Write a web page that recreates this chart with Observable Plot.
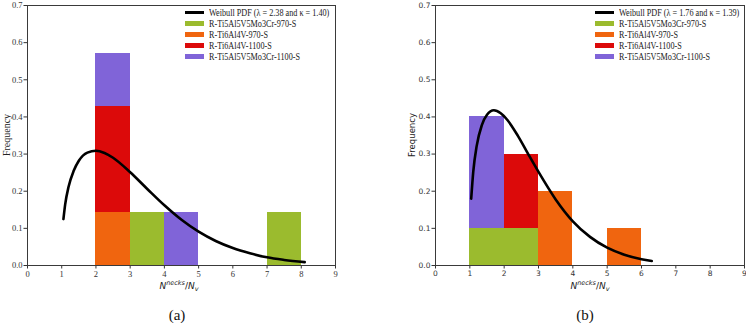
<!DOCTYPE html>
<html>
<head>
<meta charset="utf-8">
<script src="https://cdn.jsdelivr.net/npm/d3@7"></script>
<script src="https://cdn.jsdelivr.net/npm/@observablehq/plot@0.6"></script>
<style>
  html, body { margin: 0; padding: 0; background: #fff; }
  #fig { position: relative; width: 746px; height: 323px; overflow: hidden; }
  .panel { position: absolute; top: 0; width: 373px; height: 323px; }
  .panel svg { position: absolute; left: 0; top: 0; }
  .ylab { position: absolute; transform: translate(-50%, -50%) rotate(-90deg); white-space: nowrap; color: #222; }
  .xlab { position: absolute; transform: translate(-50%, -50%); white-space: nowrap; font-family: "DejaVu Sans", sans-serif; font-size: 9px; color: #222; }
  .xlab sup, .xlab sub { font-size: 6.5px; }
  .caption { position: absolute; transform: translate(-50%, -50%); font-family: "Liberation Serif", serif; font-size: 15px; color: #111; }
  .legend { position: absolute; font-family: "Liberation Serif", serif; font-size: 9.3px; color: #1a1a1a; }
  .legend .row { position: absolute; left: 0; height: 10px; white-space: nowrap; }
  .legend .key { position: absolute; left: 0; width: 19px; }
  .legend .txt { position: absolute; left: 24px; top: -5px; line-height: 10px; transform: scaleX(0.88); transform-origin: left center; }
</style>
</head>
<body>
<div id="fig"></div>
<script>
// Histogram bins: left edges, each bin is one unit wide
const binEdges = [0, 1, 2, 3, 4, 5, 6, 7, 8];
const xTicks = [0, 1, 2, 3, 4, 5, 6, 7, 8, 9];
const yTicks = [0, 0.1, 0.2, 0.3, 0.4, 0.5, 0.6, 0.7];

const seriesNames = ["R-Ti5Al5V5Mo3Cr-970-S", "R-Ti6Al4V-970-S", "R-Ti6Al4V-1100-S", "R-Ti5Al5V5Mo3Cr-1100-S"];
const seriesColors = ["#9bbb2e", "#f0650f", "#dc0a0a", "#8064d8"];

// Panel (a): sample counts per bin, for each alloy / temperature
const countsA_Ti5553_970 = [0, 0, 0, 1, 0, 0, 0, 1, 0];
const countsA_Ti64_970 = [0, 0, 1, 0, 0, 0, 0, 0, 0];
const countsA_Ti64_1100 = [0, 0, 2, 0, 0, 0, 0, 0, 0];
const countsA_Ti5553_1100 = [0, 0, 1, 0, 1, 0, 0, 0, 0];
const sampleSizeA = 7;

// Panel (b)
const countsB_Ti5553_970 = [0, 1, 1, 0, 0, 0, 0, 0, 0];
const countsB_Ti64_970 = [0, 0, 0, 2, 0, 1, 0, 0, 0];
const countsB_Ti64_1100 = [0, 0, 2, 0, 0, 0, 0, 0, 0];
const countsB_Ti5553_1100 = [0, 3, 0, 0, 0, 0, 0, 0, 0];
const sampleSizeB = 10;

// Fitted Weibull PDF curves (location 1), sampled along x
const weibullA_x = [1.05, 1.1, 1.2, 1.35, 1.5, 1.75, 2, 2.25, 2.5, 3, 3.5, 4, 4.5, 5, 5.5, 6, 6.5, 7, 7.5, 8.1];
const weibullA_y = [0.125, 0.164, 0.212, 0.255, 0.282, 0.304, 0.309, 0.303, 0.290, 0.251, 0.206, 0.162, 0.123, 0.091, 0.066, 0.047, 0.033, 0.022, 0.015, 0.009];
const weibullB_x = [1.04, 1.1, 1.2, 1.35, 1.5, 1.7, 1.9, 2.1, 2.4, 2.7, 3, 3.5, 4, 4.5, 5, 5.5, 6, 6.3];
const weibullB_y = [0.180, 0.253, 0.322, 0.378, 0.406, 0.418, 0.410, 0.391, 0.349, 0.300, 0.252, 0.178, 0.119, 0.077, 0.048, 0.029, 0.017, 0.012];

const legendA = "Weibull PDF (λ = 2.38 and κ = 1.40)";
const legendB = "Weibull PDF (λ = 1.76 and κ = 1.39)";

// Stack the series within each bin, converting counts to frequencies
function stackBins(seriesCounts, n) {
  const rows = [];
  binEdges.forEach((x0, i) => {
    let base = 0;
    seriesCounts.forEach((counts, s) => {
      const f = counts[i] / n;
      if (f > 0) {
        rows.push({x1: x0, x2: x0 + 1, y1: base, y2: base + f, series: seriesNames[s]});
        base += f;
      }
    });
  });
  return rows;
}

function makeChart(cfg) {
  const bars = stackBins(cfg.counts, cfg.n);
  const curve = cfg.cx.map((x, i) => ({x, y: cfg.cy[i]}));
  return Plot.plot({
    width: 373,
    height: 282,
    marginLeft: cfg.ml,
    marginRight: cfg.mr,
    marginTop: 5,
    marginBottom: 17,
    style: {fontFamily: cfg.font, fontSize: cfg.fontSize, color: "#333", background: "transparent"},
    x: {domain: [0, 9], ticks: xTicks, tickFormat: d3.format("d"), tickSize: 3.5, tickPadding: 2, label: null},
    y: {domain: [0, 0.7], ticks: yTicks, tickFormat: d3.format(".1f"), tickSize: 3.5, tickPadding: 1.5, label: null},
    color: {domain: seriesNames, range: seriesColors},
    marks: [
      Plot.rect(bars, {x1: "x1", x2: "x2", y1: "y1", y2: "y2", fill: "series", inset: 0, shapeRendering: "crispEdges"}),
      Plot.line(curve, {x: "x", y: "y", stroke: "#000", strokeWidth: 2.6, curve: "monotone-x"}),
      Plot.frame({stroke: "#3a3a3a", strokeWidth: 1})
    ]
  });
}

function buildPanel(cfg) {
  const panel = document.createElement("div");
  panel.className = "panel";
  panel.style.left = cfg.left + "px";
  panel.appendChild(makeChart(cfg));

  const ylab = document.createElement("div");
  ylab.className = "ylab";
  ylab.textContent = "Frequency";
  ylab.style.left = cfg.ylabX + "px";
  ylab.style.top = "135px";
  ylab.style.fontFamily = cfg.ylabFont;
  ylab.style.fontSize = cfg.ylabSize + "px";
  panel.appendChild(ylab);

  const xlab = document.createElement("div");
  xlab.className = "xlab";
  xlab.innerHTML = "<i>N</i><sup><i>necks</i></sup>/<i>N</i><sub><i>v</i></sub>";
  xlab.style.left = cfg.xlabX + "px";
  xlab.style.top = "286px";
  panel.appendChild(xlab);

  const cap = document.createElement("div");
  cap.className = "caption";
  cap.textContent = cfg.caption;
  cap.style.left = cfg.capX + "px";
  cap.style.top = "315px";
  panel.appendChild(cap);

  const legend = document.createElement("div");
  legend.className = "legend";
  legend.style.left = cfg.legX + "px";
  legend.style.top = "0px";
  const entries = [{label: cfg.legendText, color: "#000", line: true}]
    .concat(seriesNames.map((s, i) => ({label: s, color: seriesColors[i], line: false})));
  entries.forEach((e, i) => {
    const row = document.createElement("div");
    row.className = "row";
    row.style.top = (12.7 + i * 11) + "px";
    const key = document.createElement("div");
    key.className = "key";
    key.style.background = e.color;
    key.style.height = e.line ? "2.6px" : "4.5px";
    key.style.top = e.line ? "-1.3px" : "-2.25px";
    const txt = document.createElement("div");
    txt.className = "txt";
    txt.textContent = e.label;
    row.appendChild(key);
    row.appendChild(txt);
    legend.appendChild(row);
  });
  panel.appendChild(legend);
  return panel;
}

const fig = document.getElementById("fig");
fig.appendChild(buildPanel({
  left: 0, ml: 27, mr: 38,
  counts: [countsA_Ti5553_970, countsA_Ti64_970, countsA_Ti64_1100, countsA_Ti5553_1100], n: sampleSizeA,
  cx: weibullA_x, cy: weibullA_y,
  font: "'Liberation Serif', serif", fontSize: "8.5px",
  ylabX: 6, ylabFont: "'Liberation Serif', serif", ylabSize: 10,
  xlabX: 179, capX: 177, caption: "(a)",
  legX: 185, legendText: legendA
}));
fig.appendChild(buildPanel({
  left: 373, ml: 62, mr: 2,
  counts: [countsB_Ti5553_970, countsB_Ti64_970, countsB_Ti64_1100, countsB_Ti5553_1100], n: sampleSizeB,
  cx: weibullB_x, cy: weibullB_y,
  font: "'DejaVu Sans', sans-serif", fontSize: "7.5px",
  ylabX: 39, ylabFont: "'DejaVu Sans', sans-serif", ylabSize: 8.5,
  xlabX: 217, capX: 212, caption: "(b)",
  legX: 222, legendText: legendB
}));
</script>
</body>
</html>
